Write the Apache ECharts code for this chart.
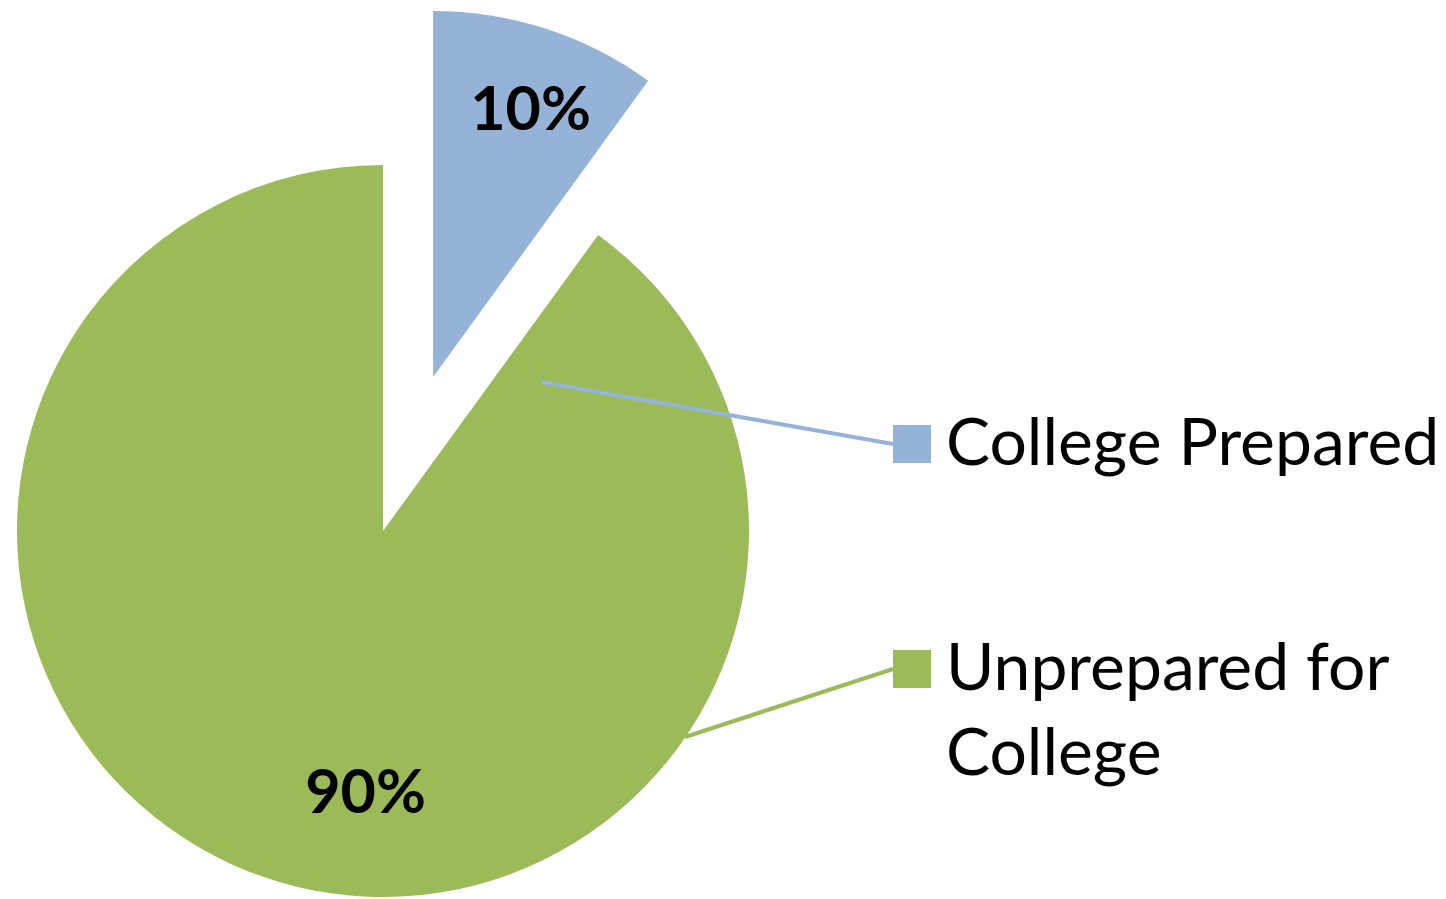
<!DOCTYPE html>
<html>
<head>
<meta charset="utf-8">
<script src="https://cdn.jsdelivr.net/npm/echarts@6/dist/echarts.min.js"></script>
<style>
html,body{margin:0;padding:0;background:#ffffff;}
#chart{width:1446px;height:899px;}
</style>
</head>
<body>
<div id="chart"></div>
<script>
// ---- data ----
const categories = ['College Prepared', 'Unprepared for College'];
const values = [10, 90];
const legendLines = [['College Prepared'], ['Unprepared for', 'College']];
const colors = ['#95B3D7', '#9BBB59'];

// ---- layout ----
const CENTER = [383, 531];
const RADIUS = 366;
const EXPLODE = 162;
const pctOffsets = [[40, -90], [40, 85]];
const legendPos = [[893, 444], [893, 669]];
const leaderStarts = [[542, 382], [685, 737]];
const GHOST_R = 100;
const FONT = 'Lato';

// mid-angle of each slice (clockwise from 12 o'clock), used to place the invisible label-carrier pies
const total = values.reduce((a, b) => a + b, 0);
const midAngles = [];
let acc = 0;
values.forEach(v => { midAngles.push((acc + v / 2) / total * 2 * Math.PI); acc += v; });

const chart = echarts.init(document.getElementById('chart'), null, { renderer: 'canvas' });

function legendFormatter(i) {
  return legendLines[i].map((t, k) => (k === 0 ? '{sq' + i + '|}' : '{gap|}') + '{t|' + t + '}').join('\n');
}

function ghostSeries(idx) {
  const a = midAngles[idx];
  const c = [leaderStarts[idx][0] - GHOST_R * Math.sin(a), leaderStarts[idx][1] + GHOST_R * Math.cos(a)];
  return {
    type: 'pie',
    silent: true,
    animation: false,
    center: c,
    radius: GHOST_R,
    startAngle: 90,
    clockwise: true,
    avoidLabelOverlap: false,
    z: 5,
    itemStyle: { color: 'rgba(0,0,0,0)', borderWidth: 0 },
    emphasis: { disabled: true },
    label: {
      show: true,
      position: 'outside',
      backgroundColor: 'rgba(0,0,0,0)',
      padding: legendLines[idx].length > 1 ? [85 * (legendLines[idx].length - 1), 0, 0, 0] : 0,
      formatter: () => legendFormatter(idx),
      rich: {
        sq0: { width: 38, height: 38, backgroundColor: colors[0] },
        sq1: { width: 38, height: 38, backgroundColor: colors[1] },
        gap: { width: 38, height: 38 },
        t: { fontFamily: FONT, fontSize: 66, color: '#000000', lineHeight: 85, padding: [0, 0, 0, 15] }
      }
    },
    labelLine: { show: true, length: 10, length2: 0, smooth: false, lineStyle: { width: 4, opacity: 1, color: colors[idx] } },
    labelLayout: function (p) {
      if (p.dataIndex !== idx) return {};
      return { x: legendPos[idx][0], y: legendPos[idx][1], align: 'left', verticalAlign: 'middle' };
    },
    data: values.map((v, i) => ({
      name: categories[i],
      value: v,
      label: { show: i === idx },
      labelLine: { show: i === idx }
    }))
  };
}

chart.setOption({
  animation: false,
  backgroundColor: '#ffffff',
  series: [
    {
      type: 'pie',
      animation: false,
      center: CENTER,
      radius: RADIUS,
      startAngle: 90,
      clockwise: true,
      selectedMode: 'single',
      selectedOffset: EXPLODE,
      avoidLabelOverlap: false,
      z: 2,
      itemStyle: { borderWidth: 0 },
      emphasis: { disabled: true },
      label: {
        show: true,
        position: 'inside',
        formatter: '{d}%',
        fontFamily: FONT,
        fontWeight: 'bold',
        fontSize: 61,
        color: '#000000'
      },
      labelLine: { show: false },
      labelLayout: function (p) {
        return { dx: pctOffsets[p.dataIndex][0], dy: pctOffsets[p.dataIndex][1] };
      },
      data: values.map((v, i) => ({
        name: categories[i],
        value: v,
        selected: i === 0,
        itemStyle: { color: colors[i] },
        select: { itemStyle: { color: colors[i], borderWidth: 0 } }
      }))
    },
    ghostSeries(0),
    ghostSeries(1)
  ]
});
</script>
</body>
</html>
